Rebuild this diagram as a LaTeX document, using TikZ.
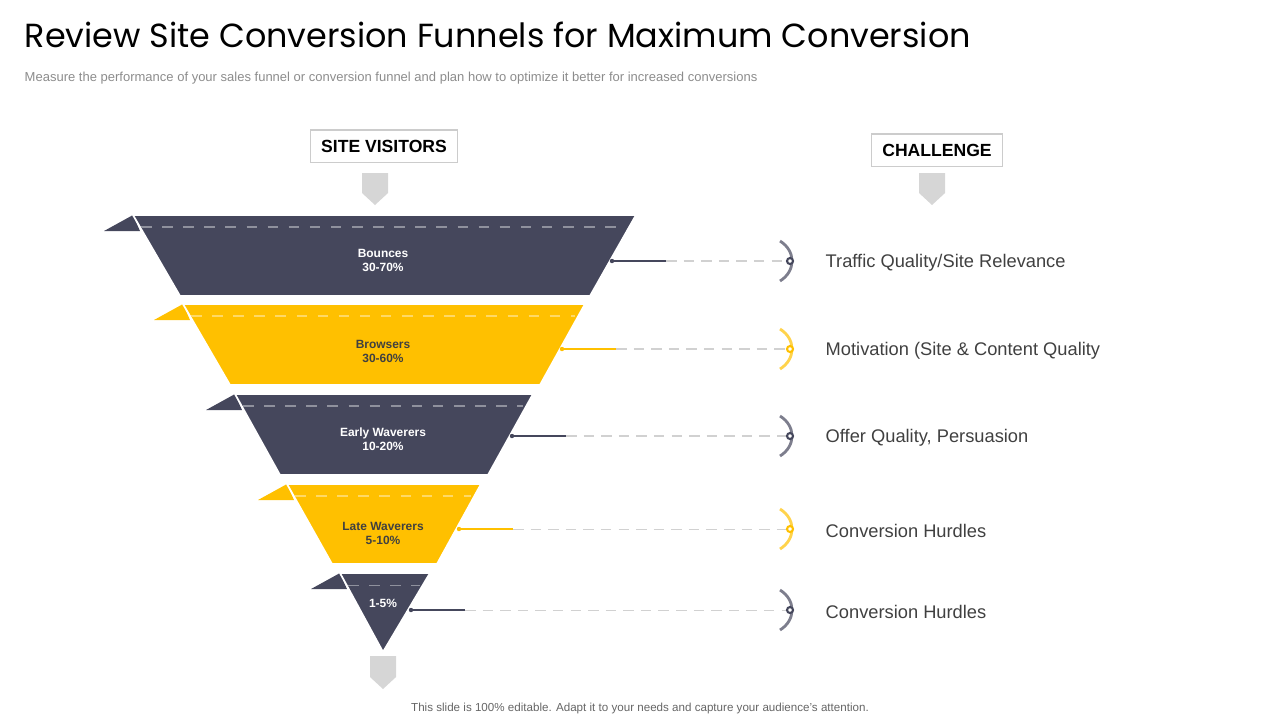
\documentclass[tikz,border=0pt]{standalone}
\usepackage{fontspec}
\setmainfont{Liberation Sans}
\newfontfamily\titlefont{Poppins}
\definecolor{dk}{HTML}{45475C}
\definecolor{yl}{HTML}{FFC000}
\definecolor{gr}{HTML}{D6D6D6}
\tikzset{
 lbl/.style={font=\bfseries\fontsize{3.4}{4}\selectfont,align=center},
 chal/.style={anchor=west,font=\fontsize{5.2}{6}\selectfont,text=black!75},
 hdr/.style={draw=black!20,line width=0.3pt,font=\bfseries\fontsize{5}{6}\selectfont,minimum height=0.32cm,inner xsep=3pt,inner ysep=0pt},
 dline/.style={densely dashed,draw=black!18,line width=0.3pt},
}
\begin{document}
\begin{tikzpicture}[x=0.01cm,y=-0.01cm]
\useasboundingbox (0,0) rectangle (1280,720);
\node[anchor=west,font=\titlefont\fontsize{9.5}{12}\selectfont,inner xsep=0pt] (title) at (24,35) {Review Site Conversion Funnels for Maximum Conversion};
\node[anchor=west,font=\fontsize{3.7}{4.5}\selectfont,text=black!45,inner xsep=0pt] (sub) at (24,78) {Measure the performance of your sales funnel or conversion funnel and plan how to optimize it better for increased conversions};
\node[hdr] (h1) at (384,146) {SITE VISITORS};
\node[hdr] (h2) at (937,150) {CHALLENGE};
\fill[gr] (362,173) -- (388,173) -- (388,193) -- (375,205) -- (362,193) -- cycle;
\fill[gr] (919,173) -- (945,173) -- (945,193) -- (932,205) -- (919,193) -- cycle;
\fill[gr] (370,656) -- (396,656) -- (396,677) -- (383,689) -- (370,677) -- cycle;
% bands
\def\band#1#2#3#4#5#6#7{%
 \fill[#1] (#4-29,#2+16) -- (#4,#2) -- (#4+7,#2+16) -- cycle;
 \fill[#1,draw=white,line width=0.5pt] (#4,#2) -- (#5,#2) -- (#7,#3) -- (#6,#3) -- cycle;
 \draw[dashed,draw=white!40!#1,line width=0.3pt] (#4+8,#2+12) -- (#5-10,#2+12);
}
\band{dk}{215}{296}{133}{636}{180}{590}
\band{yl}{304}{385}{183}{585}{230}{540}
\band{dk}{394}{475}{235}{533}{280}{488}
\band{yl}{484}{564}{287}{481}{332}{437}
\fill[dk] (311,589) -- (340,573) -- (347,589) -- cycle;
\fill[dk,draw=white,line width=0.5pt] (340,573) -- (430,573) -- (383,652) -- cycle;
\draw[dashed,draw=white!40!dk,line width=0.3pt] (348,585) -- (420,585);
\node[lbl,text=white] (b1) at (383,260) {Bounces\\30-70\%};
\node[lbl,text=black!75] (b2) at (383,351) {Browsers\\30-60\%};
\node[lbl,text=white] (b3) at (383,439) {Early Waverers\\10-20\%};
\node[lbl,text=black!75] (b4) at (383,533) {Late Waverers\\5-10\%};
\node[lbl,text=white] (b5) at (383,603) {1-5\%};
% connectors
\foreach \y/\x/\c/\t [count=\i] in {261/612/dk/{Traffic Quality/Site Relevance},349/562/yl/{Motivation (Site \& Content Quality},436/512/dk/{Offer Quality, Persuasion},529/459/yl/{Conversion Hurdles},610/411/dk/{Conversion Hurdles}}{
 \coordinate (s\i) at (\x,\y);
 \coordinate (m\i) at (\x+54,\y);
 \coordinate (e\i) at (787,\y);
 \draw[\c,line width=0.6pt] (s\i) -- (m\i);
 \draw[dline] (m\i) -- (e\i);
 \fill[\c] (s\i) circle (2.2);
 \draw[\c!70,line width=0.8pt] (780,\y-20) .. controls (796,\y-10) and (796,\y+10) .. (780,\y+20);
 \draw[\c,fill=white,line width=0.6pt] (790,\y) circle (3);
 \node[chal,inner xsep=0pt] (c\i) at (825,\y+2) {\t};
}
\node[font=\fontsize{3.3}{4}\selectfont,text=black!60] (foot) at (640,708) {This slide is 100\% editable. Adapt it to your needs and capture your audience's attention.};
\end{tikzpicture}
\end{document}
